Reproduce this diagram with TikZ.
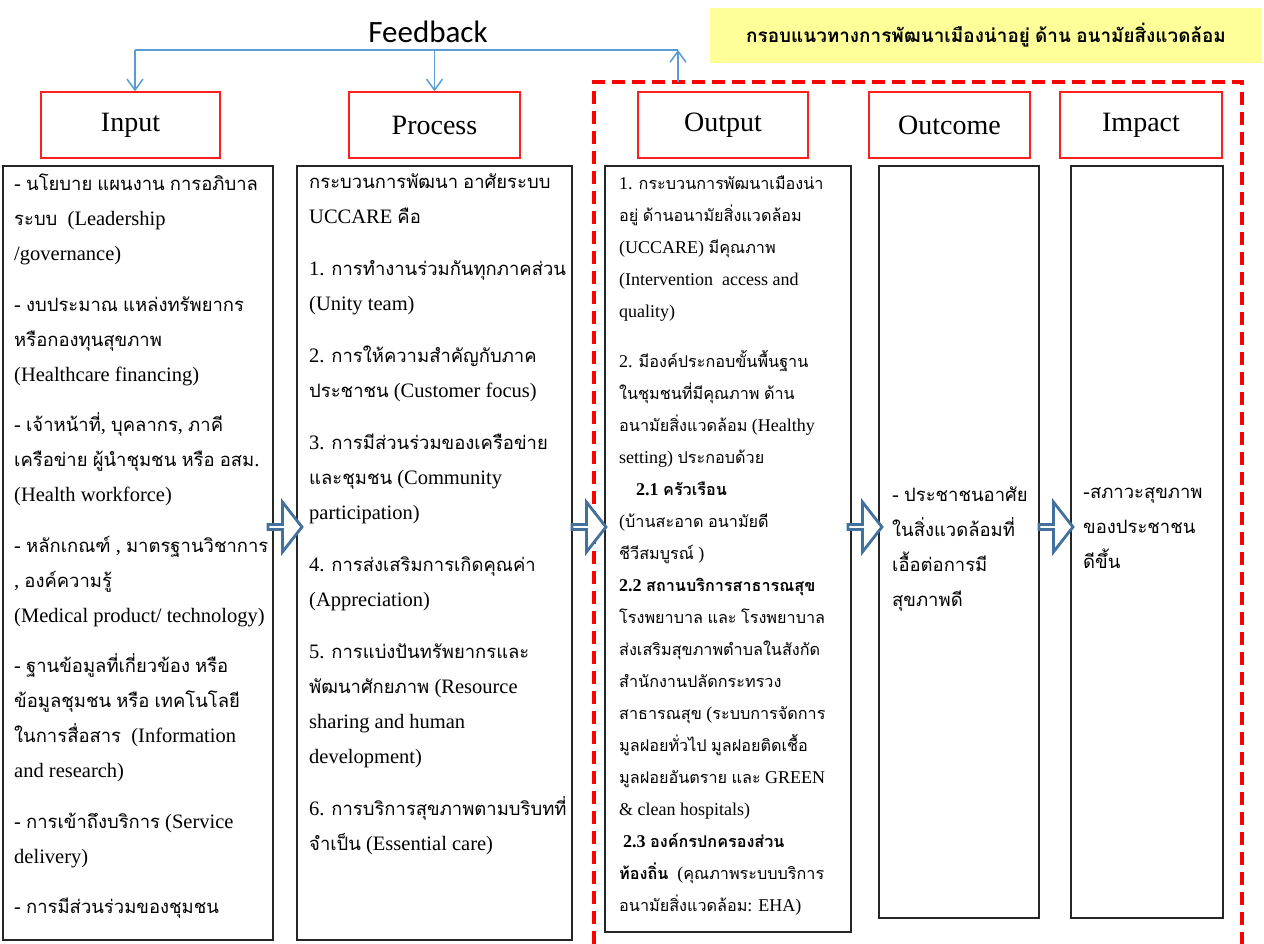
\documentclass[tikz,border=0pt]{standalone}
\usepackage{fontspec}
\setmainfont{Liberation Serif}
\newfontfamily\thaifont{Loma}[Script=Thai, Scale=0.9]
\newfontfamily\fbfont{Carlito}
\usetikzlibrary{shapes.arrows,arrows.meta}

% Thai characters switch to the Thai family, the rest stays in the serif
\XeTeXinterchartokenstate=1
\newXeTeXintercharclass\thaiclass
\count255="0E00
\loop
  \XeTeXcharclass\count255=\thaiclass
  \advance\count255 by 1
\ifnum\count255<"0E80 \repeat
\XeTeXinterchartoks 0 \thaiclass = {\thaifont}
\XeTeXinterchartoks 4095 \thaiclass = {\thaifont}
\XeTeXinterchartoks \thaiclass 0 = {\rmfamily}
\XeTeXinterchartoks \thaiclass 4095 = {\rmfamily}

\definecolor{headred}{HTML}{FF1F1F}
\definecolor{arrblue}{HTML}{41719C}
\definecolor{fbblue}{HTML}{5B9BD5}
\definecolor{titleyellow}{HTML}{FFFF99}
\definecolor{dashred}{HTML}{FF0000}

\tikzset{
  head/.style={draw=headred, line width=1.3pt, fill=white, minimum height=66pt, font=\fontsize{28}{32}\selectfont},
  body/.style={draw=black!85, line width=1.2pt},
  txt/.style={anchor=north west, align=left, inner sep=0pt, font=\fontsize{20.5}{35}\selectfont},
  blockarr/.style={single arrow, draw=arrblue, fill=white, line width=2.8pt, minimum height=34pt, minimum width=50pt, single arrow head extend=13pt, single arrow tip angle=104, inner sep=0pt},
}

\begin{document}
\begin{tikzpicture}[
  x=1pt, y=-1pt,
  fb/.style={fbblue, line width=1.5pt},
  fbarr/.style={fb, -{Straight Barb[length=11pt,width=16pt]}},
  dashbox/.style={dashred, line width=4pt, dash pattern=on 13pt off 7pt}
]
  \fill[white] (0,0) rectangle (1264,944);
  \useasboundingbox (0,0) rectangle (1264,944);

  % title and feedback
  \node[fill=titleyellow, minimum width=552pt, minimum height=55pt, font=\bfseries\fontsize{21}{26}\selectfont] (title) at (986,35.5)
        {กรอบแนวทางการพัฒนาเมืองน่าอยู่ ด้าน อนามัยสิ่งแวดล้อม};
  \node[font=\fbfont\fontsize{31}{34}\selectfont] (fbtxt) at (428,32) {Feedback};

  % dashed frame round output, outcome and impact
  \draw[dashbox] (594,944) -- (594,82) -- (1242,82) -- (1242,944);
  \coordinate (fbup) at (678,82);

  % headers
  \node[head, minimum width=179pt] (inH)  at (130.5,125) {Input};
  \node[head, minimum width=171pt] (prH)  at (434.5,125) {Process};
  \node[head, minimum width=170pt] (outH) at (723,125)   {Output};
  \node[head, minimum width=161pt] (ocH)  at (949.5,125) {Outcome};
  \node[head, minimum width=162pt] (imH)  at (1141,125)  {Impact};

  % body boxes
  \node[body, minimum width=270pt, minimum height=774pt] (inB)  at (138,553)   {};
  \node[body, minimum width=275pt, minimum height=774pt] (prB)  at (434.5,553) {};
  \node[body, minimum width=246pt, minimum height=766pt] (outB) at (728,549)   {};
  \node[body, minimum width=160pt, minimum height=752pt] (ocB)  at (959,542)   {};
  \node[body, minimum width=152pt, minimum height=752pt] (imB)  at (1147,542)  {};

  \node[txt] (inT) at (14,174) {%
    - นโยบาย แผนงาน การอภิบาล\\
    ระบบ~ (Leadership\\
    /governance)\\[15.5pt]
    - งบประมาณ แหล่งทรัพยากร\\
    หรือกองทุนสุขภาพ\\
    (Healthcare financing)\\[15.5pt]
    - เจ้าหน้าที่, บุคลากร, ภาคี\\
    เครือข่าย ผู้นำชุมชน หรือ อสม.\\
    (Health workforce)\\[15.5pt]
    - หลักเกณฑ์ , มาตรฐานวิชาการ\\
    , องค์ความรู้\\
    (Medical product/ technology)\\[15.5pt]
    - ฐานข้อมูลที่เกี่ยวข้อง หรือ\\
    ข้อมูลชุมชน หรือ เทคโนโลยี\\
    ในการสื่อสาร~ (Information\\
    and research)\\[15.5pt]
    - การเข้าถึงบริการ (Service\\
    delivery)\\[15.5pt]
    - การมีส่วนร่วมของชุมชน};

  \node[txt] (prT) at (309,174) {%
    กระบวนการพัฒนา อาศัยระบบ\\
    UCCARE คือ\\[17pt]
    1. การทำงานร่วมกันทุกภาคส่วน\\
    (Unity team)\\[17pt]
    2. การให้ความสำคัญกับภาค\\
    ประชาชน (Customer focus)\\[17pt]
    3. การมีส่วนร่วมของเครือข่าย\\
    และชุมชน (Community\\
    participation)\\[17pt]
    4. การส่งเสริมการเกิดคุณค่า\\
    (Appreciation)\\[17pt]
    5. การแบ่งปันทรัพยากรและ\\
    พัฒนาศักยภาพ (Resource\\
    sharing and human\\
    development)\\[17pt]
    6. การบริการสุขภาพตามบริบทที่\\
    จำเป็น (Essential care)};

  \node[txt, font=\fontsize{18}{32}\selectfont] (outT) at (619,176) {%
    1. กระบวนการพัฒนาเมืองน่า\\
    อยู่ ด้านอนามัยสิ่งแวดล้อม\\
    (UCCARE) มีคุณภาพ\\
    (Intervention~ access and\\
    quality)\\[18pt]
    2. มีองค์ประกอบขั้นพื้นฐาน\\
    ในชุมชนที่มีคุณภาพ ด้าน\\
    อนามัยสิ่งแวดล้อม (Healthy\\
    setting) ประกอบด้วย\\
    \hspace*{17pt}\textbf{2.1 ครัวเรือน}\\
    (บ้านสะอาด อนามัยดี\\
    ชีวีสมบูรณ์ )\\
    \textbf{2.2 สถานบริการสาธารณสุข}\\
    โรงพยาบาล และ โรงพยาบาล\\
    ส่งเสริมสุขภาพตำบลในสังกัด\\
    สำนักงานปลัดกระทรวง\\
    สาธารณสุข (ระบบการจัดการ\\
    มูลฝอยทั่วไป มูลฝอยติดเชื้อ\\
    มูลฝอยอันตราย และ GREEN\\
    \& clean hospitals)\\
    \hspace*{4pt}\textbf{2.3 องค์กรปกครองส่วน}\\
    \textbf{ท้องถิ่น}~ (คุณภาพระบบบริการ\\
    อนามัยสิ่งแวดล้อม: EHA)};

  \node[txt] (ocT) at (892,487) {%
    - ประชาชนอาศัย\\
    ในสิ่งแวดล้อมที่\\
    เอื้อต่อการมี\\
    สุขภาพดี};

  \node[txt] (imT) at (1083,487) {%
    -สภาวะสุขภาพ\\
    ของประชาชน\\
    ดีขึ้น};

  % block arrows between the columns
  \node[blockarr] (arrIP) at (284,527)  {};
  \node[blockarr] (arrPO) at (588,527)  {};
  \node[blockarr] (arrOO) at (864,527)  {};
  \node[blockarr] (arrOI) at (1055,527) {};

  % feedback loop
  \coordinate (fbL) at (135,50);
  \coordinate (fbR) at (678,50);
  \draw[fb] (fbL) -- (fbR);
  \draw[fbarr] (fbL) -- (fbL |- inH.north);
  \draw[fbarr] (prH.north |- fbL) -- (prH.north);
  \draw[fbarr] (fbup) -- (fbR);
\end{tikzpicture}
\end{document}
